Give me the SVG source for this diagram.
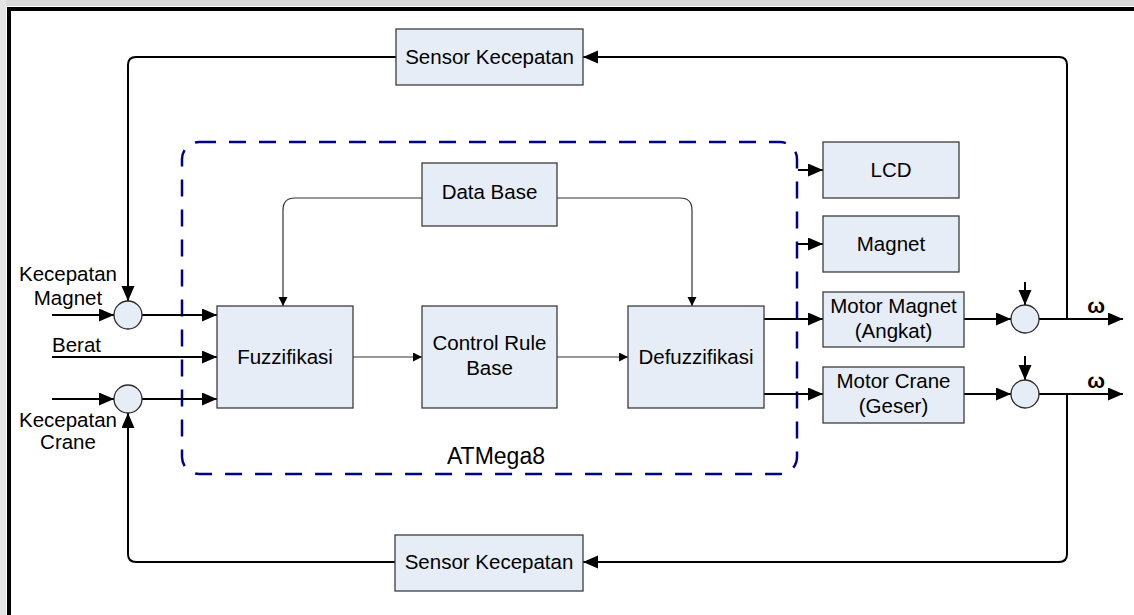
<svg xmlns="http://www.w3.org/2000/svg" width="1134" height="615" viewBox="0 0 1134 615">
  <style>
    .box { fill: #e6edf7; stroke: #3c3c3c; stroke-width: 1.3; }
    .sum { fill: #e6edf7; stroke: #2a2a2a; stroke-width: 1.3; }
    .lbl { font-family: "Liberation Sans", Arial, sans-serif; font-size: 20.5px; fill: #000; text-anchor: middle; }
    .lft { text-anchor: start; }
    .omega { font-family: "Liberation Sans", Arial, sans-serif; font-size: 21px; font-weight: bold; text-anchor: middle; }
    .wire { fill: none; stroke: #000; stroke-width: 2; }
    .thin { fill: none; stroke: #333; stroke-width: 1.2; }
  </style>
  <defs>
    <marker id="arrow" markerUnits="userSpaceOnUse" markerWidth="17" markerHeight="14" refX="15" refY="6.5" orient="auto">
      <path d="M0,0 L15,6.5 L0,13 Z" fill="#000"/>
    </marker>
    <marker id="arrowSmall" markerUnits="userSpaceOnUse" markerWidth="10" markerHeight="10" refX="9" refY="4.5" orient="auto">
      <path d="M0,0 L9,4.5 L0,9 Z" fill="#000"/>
    </marker>
  </defs>

  <!-- page background and frame -->
  <rect x="0" y="0" width="1134" height="615" fill="#ffffff"/>
  <rect x="0" y="0" width="1134" height="6" fill="#d9d9d9"/>
  <rect x="0" y="0" width="6" height="615" fill="#e4e4e4"/>
  <path d="M9,615 V9 H1134" fill="none" stroke="#000" stroke-width="4"/>

  <!-- ATMega8 boundary -->
  <g id="atmega8">
    <rect x="182" y="142" width="615" height="332" rx="17" ry="17" fill="none" stroke="#00008b" stroke-width="2.5" stroke-dasharray="17 13"/>
    <text class="lbl" x="496" y="464" style="font-size:23px">ATMega8</text>
  </g>

  <!-- connectors -->
  <g id="connectors">
    <!-- upper feedback loop -->
    <path class="wire" d="M1067,319 V65 Q1067,57 1059,57 H583" marker-end="url(#arrow)"/>
    <path class="wire" d="M396,57 H136 Q128,57 128,65 V301" marker-end="url(#arrow)"/>
    <!-- lower feedback loop -->
    <path class="wire" d="M1067,394 V554 Q1067,562 1059,562 H583" marker-end="url(#arrow)"/>
    <path class="wire" d="M395,562 H136 Q128,562 128,554 V413" marker-end="url(#arrow)"/>

    <!-- inputs -->
    <line class="wire" x1="52" y1="315" x2="114" y2="315" marker-end="url(#arrow)"/>
    <line class="wire" x1="52" y1="399" x2="114" y2="399" marker-end="url(#arrow)"/>
    <line class="wire" x1="52" y1="357" x2="217" y2="357" marker-end="url(#arrow)"/>
    <line class="wire" x1="142" y1="315" x2="217" y2="315" marker-end="url(#arrow)"/>
    <line class="wire" x1="142" y1="399" x2="217" y2="399" marker-end="url(#arrow)"/>

    <!-- fuzzy pipeline -->
    <line class="thin" x1="353" y1="357" x2="422" y2="357" marker-end="url(#arrowSmall)"/>
    <line class="thin" x1="557" y1="357" x2="628" y2="357" marker-end="url(#arrowSmall)"/>
    <path class="thin" d="M422,198 H295 Q283,198 283,210 V306" marker-end="url(#arrowSmall)"/>
    <path class="thin" d="M557,198 H680 Q692,198 692,210 V306" marker-end="url(#arrowSmall)"/>

    <!-- outputs -->
    <line class="wire" x1="798" y1="170" x2="823" y2="170" marker-end="url(#arrow)"/>
    <line class="wire" x1="798" y1="244" x2="823" y2="244" marker-end="url(#arrow)"/>
    <line class="wire" x1="764" y1="319" x2="823" y2="319" marker-end="url(#arrow)"/>
    <line class="wire" x1="764" y1="394" x2="823" y2="394" marker-end="url(#arrow)"/>
    <line class="wire" x1="964" y1="319" x2="1011" y2="319" marker-end="url(#arrow)"/>
    <line class="wire" x1="964" y1="394" x2="1011" y2="394" marker-end="url(#arrow)"/>
    <line class="wire" x1="1025" y1="282" x2="1025" y2="305" marker-end="url(#arrow)"/>
    <line class="wire" x1="1025" y1="356" x2="1025" y2="380" marker-end="url(#arrow)"/>
    <line class="wire" x1="1039" y1="319" x2="1123" y2="319" marker-end="url(#arrow)"/>
    <line class="wire" x1="1039" y1="394" x2="1123" y2="394" marker-end="url(#arrow)"/>
  </g>

  <!-- input labels -->
  <g id="input-labels">
    <text class="lbl" x="68" y="281">Kecepatan</text>
    <text class="lbl" x="68" y="305">Magnet</text>
    <text class="lbl lft" x="52" y="352">Berat</text>
    <text class="lbl" x="68" y="427">Kecepatan</text>
    <text class="lbl" x="68" y="449">Crane</text>
  </g>

  <g id="sum-magnet"><circle class="sum" cx="128" cy="315" r="14"/></g>
  <g id="sum-crane"><circle class="sum" cx="128" cy="399" r="14"/></g>

  <g id="sensor-top">
    <rect class="box" x="396" y="29" width="187" height="56"/>
    <text class="lbl" x="489.5" y="64">Sensor Kecepatan</text>
  </g>
  <g id="sensor-bottom">
    <rect class="box" x="395" y="535" width="188" height="56"/>
    <text class="lbl" x="489" y="569">Sensor Kecepatan</text>
  </g>

  <g id="data-base">
    <rect class="box" x="422" y="163" width="135" height="63"/>
    <text class="lbl" x="489.5" y="199">Data Base</text>
  </g>
  <g id="fuzzifikasi">
    <rect class="box" x="217" y="306" width="136" height="102"/>
    <text class="lbl" x="285" y="364">Fuzzifikasi</text>
  </g>
  <g id="control-rule-base">
    <rect class="box" x="422" y="306" width="135" height="102"/>
    <text class="lbl" x="489.5" y="350">Control Rule</text>
    <text class="lbl" x="489.5" y="375">Base</text>
  </g>
  <g id="defuzzifikasi">
    <rect class="box" x="628" y="306" width="136" height="102"/>
    <text class="lbl" x="696" y="364">Defuzzifikasi</text>
  </g>

  <g id="lcd">
    <rect class="box" x="823" y="142" width="136" height="56"/>
    <text class="lbl" x="891" y="177">LCD</text>
  </g>
  <g id="magnet">
    <rect class="box" x="823" y="216" width="136" height="56"/>
    <text class="lbl" x="891" y="251">Magnet</text>
  </g>
  <g id="motor-magnet">
    <rect class="box" x="823" y="292" width="141" height="55"/>
    <text class="lbl" x="893.5" y="313">Motor Magnet</text>
    <text class="lbl" x="893.5" y="338">(Angkat)</text>
  </g>
  <g id="motor-crane">
    <rect class="box" x="823" y="367" width="141" height="56"/>
    <text class="lbl" x="893.5" y="388">Motor Crane</text>
    <text class="lbl" x="893.5" y="413">(Geser)</text>
  </g>

  <g id="sum-angkat"><circle class="sum" cx="1025" cy="319" r="14"/></g>
  <g id="sum-geser"><circle class="sum" cx="1025" cy="394" r="14"/></g>

  <g id="output-labels">
    <text class="omega" x="1096" y="313">ω</text>
    <text class="omega" x="1096" y="388">ω</text>
  </g>
</svg>
